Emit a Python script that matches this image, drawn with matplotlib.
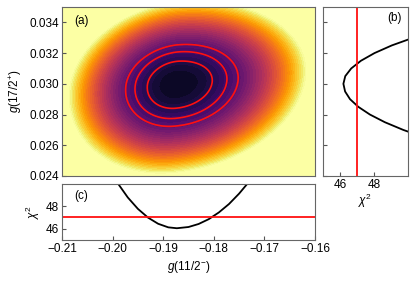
import numpy as np
import matplotlib
matplotlib.use("Agg")
import matplotlib.pyplot as plt
from matplotlib.colors import Normalize

plt.rcParams['font.family'] = ['Liberation Sans', 'DejaVu Sans']
plt.rcParams['font.size'] = 8.5
plt.rcParams['mathtext.fontset'] = 'custom'
plt.rcParams['mathtext.rm'] = 'Liberation Sans'
plt.rcParams['mathtext.it'] = 'Liberation Sans:italic'

# chi2 surface model: minimum, centre, widths, correlation
chi2_min = 46.05
g11_best = -0.1873
g17_best = 0.0300
g11_width_lo, g11_width_hi = 0.00585, 0.0070   # left / right of the minimum
g17_width_lo, g17_width_hi = 0.0016, 0.00148   # below / above the minimum
corr = 0.15
map_range = 13.5           # colour saturates at chi2_min + map_range
contour_steps = [1, 2, 3]  # red contours at chi2_min + step

# profile along g(11/2-)  (panel c)
g11_prof = [-0.1995, -0.197, -0.195, -0.193, -0.191, -0.189, -0.1873,
            -0.185, -0.183, -0.181, -0.179, -0.177, -0.175, -0.173]
chi2_g11 = [50.4, 48.8, 47.78, 47.0, 46.45, 46.13, 46.05,
            46.16, 46.43, 46.86, 47.46, 48.21, 49.14, 50.22]

# profile along g(17/2+)  (panel b)
g17_prof = [0.0265, 0.0270, 0.0275, 0.0280, 0.0285, 0.0290, 0.0295, 0.0300,
            0.0305, 0.0310, 0.0315, 0.0320, 0.0325, 0.0330, 0.0335]
chi2_g17 = [50.99, 49.72, 48.64, 47.76, 47.08, 46.59, 46.30, 46.2,
            46.31, 46.66, 47.23, 48.03, 49.05, 50.31, 51.6]

chi2_ref = 47.02

fig = plt.figure(figsize=(4.15, 2.81), dpi=100)
ax = fig.add_axes([0.1494, 0.3737, 0.6096, 0.6014])
axr = fig.add_axes([0.7783, 0.3737, 0.2048, 0.6014])
axb = fig.add_axes([0.1494, 0.1459, 0.6096, 0.1993])

# main map
gx = np.linspace(-0.21, -0.16, 300)
gy = np.linspace(0.024, 0.035, 300)
X, Y = np.meshgrid(gx, gy)
u = (X - g11_best) / np.where(X < g11_best, g11_width_lo, g11_width_hi)
v = (Y - g17_best) / np.where(Y < g17_best, g17_width_lo, g17_width_hi)
Z = chi2_min + (u**2 + v**2 - 2 * corr * u * v) / (1 - corr**2)

levels = np.linspace(chi2_min, chi2_min + map_range, 38)
ax.contourf(X, Y, Z, levels=levels, cmap='inferno', extend='max',
            norm=Normalize(chi2_min - 0.8, chi2_min + map_range))
ax.contour(X, Y, Z, levels=[chi2_min + s for s in contour_steps],
           colors='#ff1010', linewidths=1.2)
ax.set_xlim(-0.21, -0.16)
ax.set_ylim(0.024, 0.035)
ax.set_yticks([0.024, 0.026, 0.028, 0.030, 0.032, 0.034])
ax.set_yticklabels(['0.024', '0.026', '0.028', '0.030', '0.032', '0.034'])
ax.tick_params(labelbottom=False, bottom=False)
ax.set_ylabel(r'$g$(17/2$^{+}$)')
ax.text(0.05, 0.95, '(a)', transform=ax.transAxes, va='top', ha='left')

# right profile
axr.plot(chi2_g17, g17_prof, color='black', lw=1.3)
axr.axvline(chi2_ref, color='#ff1010', lw=1.3)
axr.set_xlim(45, 50)
axr.set_ylim(0.024, 0.035)
axr.set_xticks([46, 48])
axr.set_yticks([0.024, 0.026, 0.028, 0.030, 0.032, 0.034])
axr.tick_params(labelleft=False)
axr.set_xlabel(r'$\chi^2$', labelpad=1)
axr.text(0.93, 0.97, '(b)', transform=axr.transAxes, va='top', ha='right')

# bottom profile
axb.plot(g11_prof, chi2_g11, color='black', lw=1.3)
axb.axhline(chi2_ref, color='#ff1010', lw=1.3)
axb.set_xlim(-0.21, -0.16)
axb.set_ylim(45, 50)
axb.set_yticks([46, 48])
axb.set_xticks([-0.21, -0.20, -0.19, -0.18, -0.17, -0.16])
axb.set_xticklabels(['\u22120.21', '\u22120.20', '\u22120.19', '\u22120.18',
                     '\u22120.17', '\u22120.16'])
axb.set_xlabel(r'$g$(11/2$^{-}$)', labelpad=3)
axb.set_ylabel(r'$\chi^2$', labelpad=3)
axb.text(0.05, 0.9, '(c)', transform=axb.transAxes, va='top', ha='left')

for a in (ax, axr, axb):
    a.tick_params(direction='in', length=3, color='#555555', pad=2)
    for s in a.spines.values():
        s.set_color('#666666')

fig.savefig('out.png', dpi=100)
